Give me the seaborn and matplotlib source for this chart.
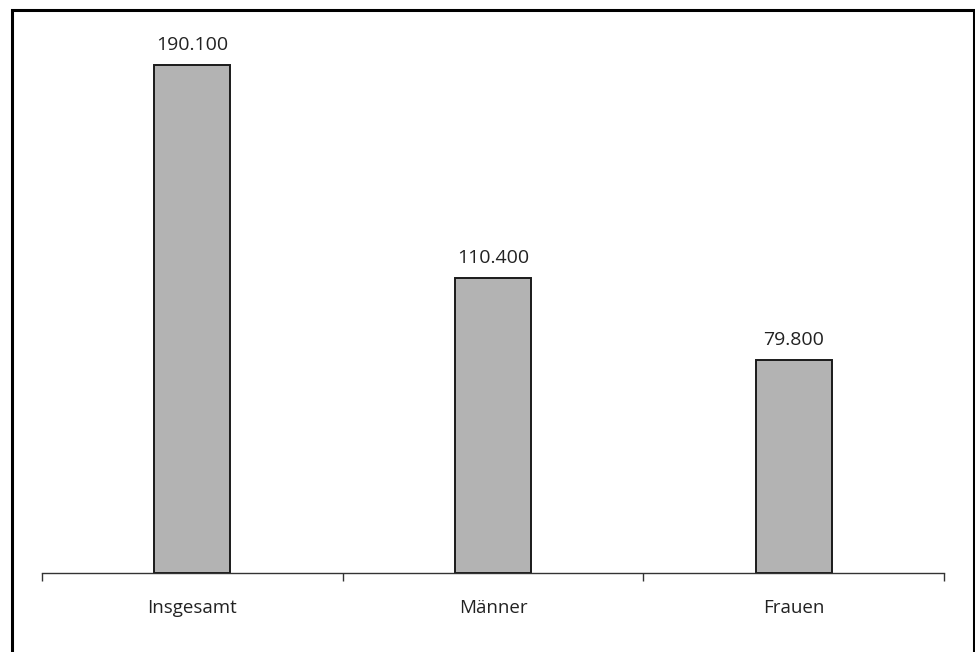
import matplotlib
matplotlib.use("Agg")
import matplotlib.pyplot as plt
import matplotlib.patches as mpatches
import seaborn as sns
import pandas as pd

categories = ["Insgesamt", "Männer", "Frauen"]
values = [190100, 110400, 79800]

df = pd.DataFrame({"Gruppe": categories, "Anzahl": values})

sns.set_theme(style="white")
plt.rcParams["font.family"] = ["Open Sans", "DejaVu Sans"]

fig = plt.figure(figsize=(9.75, 6.52), dpi=100)
ax = fig.add_axes([42 / 975, 79 / 652, 902 / 975, (573 - 38.6) / 652])

sns.barplot(data=df, x="Gruppe", y="Anzahl", color="#b3b3b3", width=0.253,
            edgecolor="#1a1a1a", linewidth=1.4, saturation=1, ax=ax)

ax.set_xlim(-0.5, 2.5)
ax.set_ylim(0, 200000)
ax.set_xlabel("")
ax.set_ylabel("")
ax.set_yticks([])

for s in ["top", "right", "left"]:
    ax.spines[s].set_visible(False)
ax.spines["bottom"].set_color("#333333")
ax.spines["bottom"].set_linewidth(1.0)

# boundary ticks between categories, labels centred under the bars
ax.set_xticks([-0.5, 0.5, 1.5, 2.5])
ax.set_xticklabels([])
ax.tick_params(axis="x", which="major", direction="out", length=6, width=1.0,
               color="#333333", bottom=True)
ax.set_xticks(range(len(categories)), minor=True)
ax.set_xticklabels(categories, minor=True)
ax.tick_params(axis="x", which="minor", length=0, pad=19, labelsize=13.5,
               labelcolor="#222222")

for i, v in enumerate(values):
    label = f"{v:,}".replace(",", ".")
    ax.annotate(label, (i, v), xytext=(0, 8), textcoords="offset points",
                ha="center", va="bottom", fontsize=14, color="#222222")

# frame around the figure, open at the bottom edge
frame = mpatches.Rectangle((12 / 975, -0.05), (974 - 12) / 975, 1.05 - 10 / 652,
                           transform=fig.transFigure, fill=False,
                           edgecolor="black", linewidth=2.2, clip_on=False)
fig.patches.append(frame)

fig.savefig("out.png", dpi=100)
